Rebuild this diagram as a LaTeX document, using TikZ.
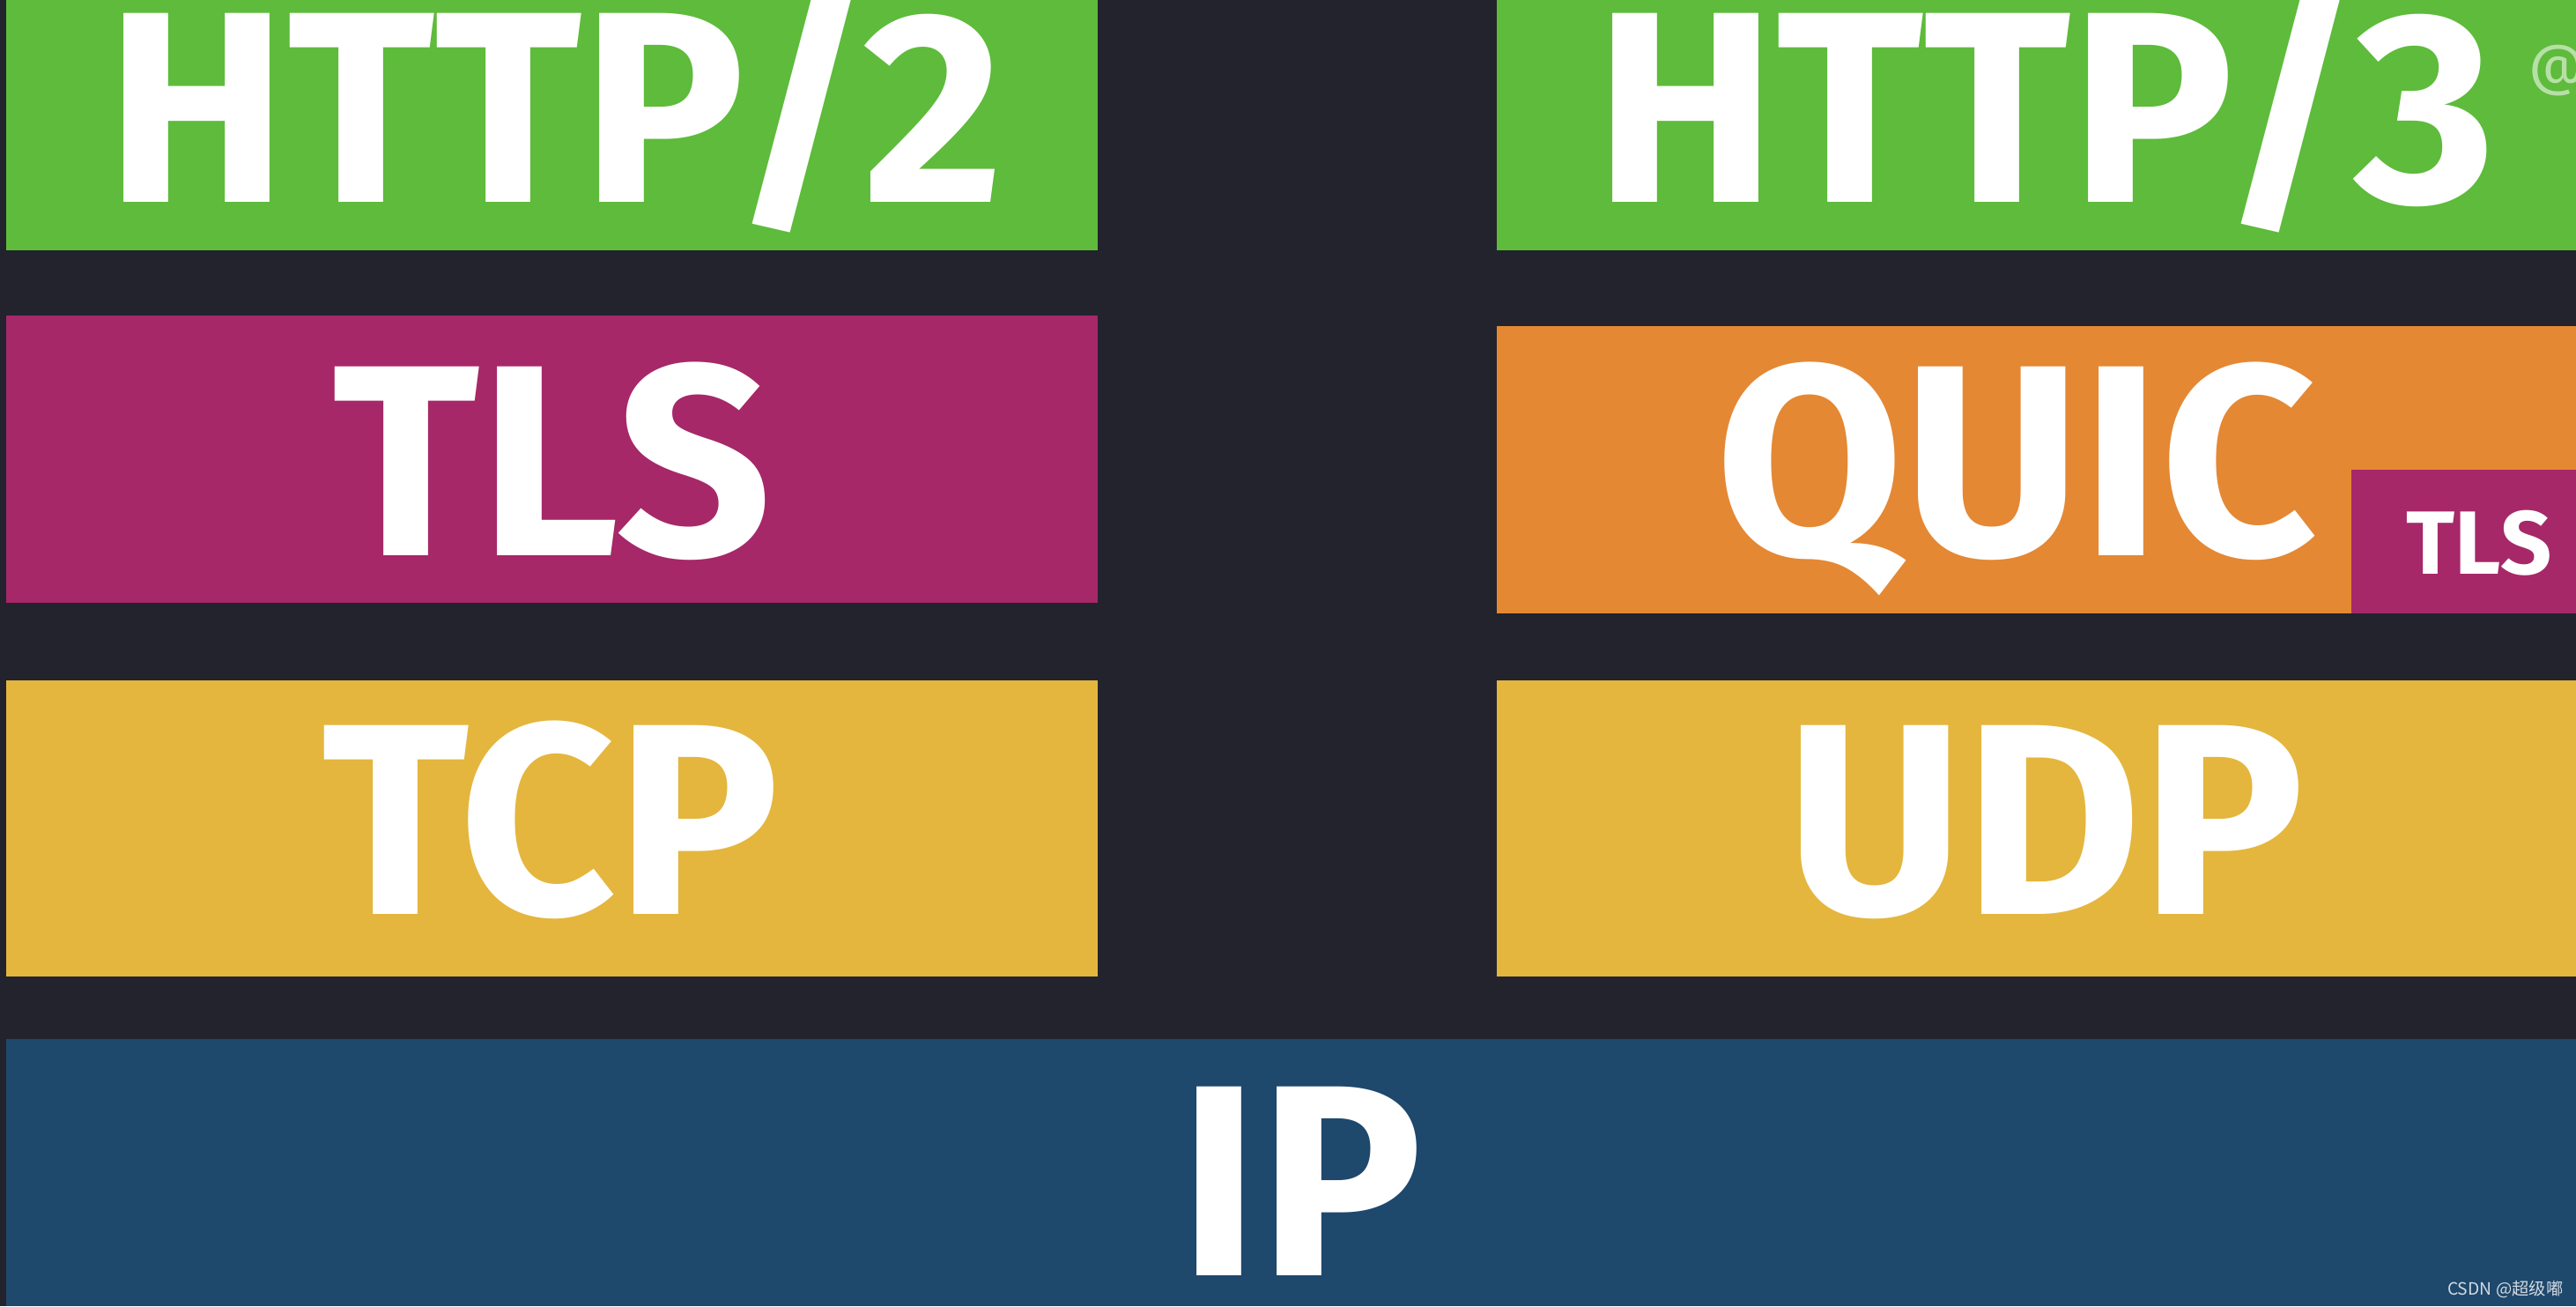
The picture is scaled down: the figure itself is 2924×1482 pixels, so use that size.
\documentclass[tikz,border=0pt]{standalone}
\usepackage{fontspec}
\setmainfont{Fira Sans}
\newfontfamily\cjk{Noto Sans CJK SC}
\definecolor{bg}{RGB}{34,35,45}
\definecolor{httpgreen}{RGB}{94,187,59}
\definecolor{tlspink}{RGB}{166,40,104}
\definecolor{quicorange}{RGB}{228,136,52}
\definecolor{tcpyellow}{RGB}{228,182,62}
\definecolor{ipblue}{RGB}{30,72,108}

\begin{document}
\begin{tikzpicture}[x=0.1mm,y=-0.1mm,
  layer/.style={rectangle,inner sep=0pt,outer sep=0pt,anchor=north west},
  big/.style={text=white,inner sep=0pt,anchor=base,text depth=0pt,font=\fontsize{88}{88}\selectfont\bfseries},
  small/.style={text=white,inner sep=0pt,anchor=base,text depth=0pt,font=\fontsize{29}{29}\selectfont\bfseries}]
\fill[bg](0,0) rectangle (2924,1482);
\useasboundingbox (0,0) rectangle (2924,1482);
% left stack
\node[layer,fill=httpgreen,minimum width=123.9mm,minimum height=28.4mm](h2box) at (7,0){};
\node[layer,fill=tlspink,minimum width=123.9mm,minimum height=32.6mm](tlsbox) at (7,358){};
\node[layer,fill=tcpyellow,minimum width=123.9mm,minimum height=33.6mm](tcpbox) at (7,772){};
% right stack
\node[layer,fill=httpgreen,minimum width=122.5mm,minimum height=28.4mm](h3box) at (1699,0){};
\node[layer,fill=quicorange,minimum width=122.5mm,minimum height=32.6mm](quicbox) at (1699,370){};
\node[layer,fill=tlspink,minimum width=25.5mm,minimum height=16.3mm](qtlsbox) at (2669,533){};
\node[layer,fill=tcpyellow,minimum width=122.5mm,minimum height=33.6mm](udpbox) at (1699,772){};
% shared
\node[layer,fill=ipblue,minimum width=291.7mm,minimum height=30.3mm](ipbox) at (7,1179){};
% labels
\node[big](h2) at (630,229){HTTP/2};
\node[big](tls) at (627,630){TLS};
\node[big](tcp) at (625,1037){TCP};
\node[big](h3) at (2322,229){HTTP/3};
\node[big](quic) at (2289,630){QUIC};
\node[small](qtls) at (2814,651){TLS};
\node[big](udp) at (2322,1037){UDP};
\node[big](ip) at (1477,1447){IP};
% watermarks
\node[text=httpgreen!45!white,inner sep=0pt,anchor=west,font=\fontsize{18}{18}\selectfont](at) at (2870,80){@};
\node[text=white!80!ipblue,inner sep=0pt,anchor=east,font=\cjk\fontsize{5.5}{6}\selectfont](csdn) at (2910,1463){CSDN @超级嘟};
\end{tikzpicture}
\end{document}
